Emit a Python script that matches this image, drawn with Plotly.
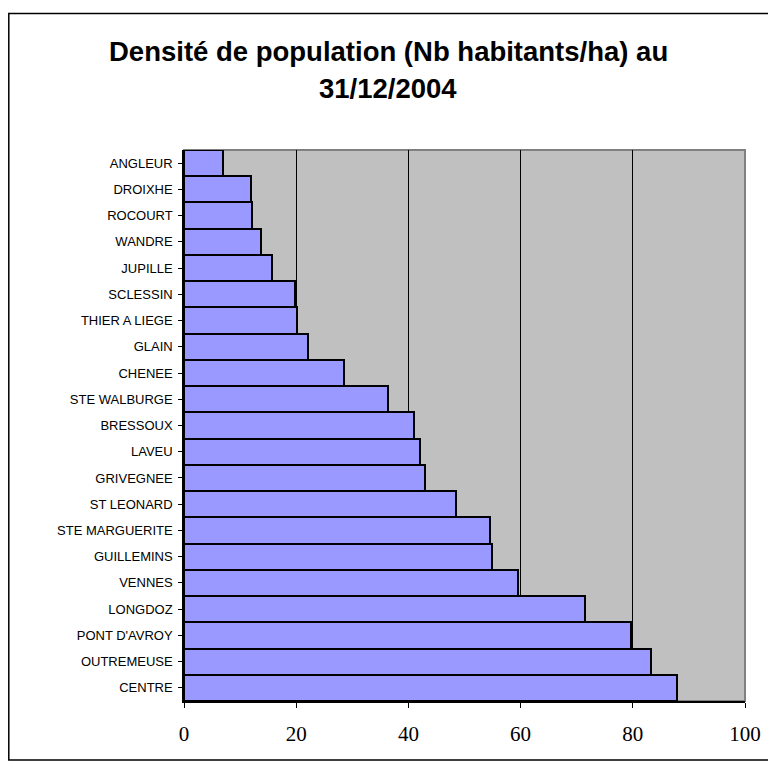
import plotly.graph_objects as go

quartiers = ["ANGLEUR", "DROIXHE", "ROCOURT", "WANDRE", "JUPILLE", "SCLESSIN",
             "THIER A LIEGE", "GLAIN", "CHENEE", "STE WALBURGE", "BRESSOUX",
             "LAVEU", "GRIVEGNEE", "ST LEONARD", "STE MARGUERITE", "GUILLEMINS",
             "VENNES", "LONGDOZ", "PONT D'AVROY", "OUTREMEUSE", "CENTRE"]
densite = [7.0, 12.0, 12.2, 13.8, 15.7, 19.7, 20.1, 22.1, 28.5, 36.4, 41.0,
           42.1, 43.0, 48.5, 54.5, 54.9, 59.5, 71.4, 79.6, 83.3, 87.9]
x_ticks = [0, 20, 40, 60, 80, 100]

# page offset (default body margin of the html page)
OFF = 8
W, H = 776 - OFF, 767 - OFF
L, R, T, B = 184 - OFF, 745 - OFF, 150 - OFF, 701 - OFF
pw, ph = R - L, B - T

def px(x):
    return (x - OFF - L) / pw

def py(y):
    return (B - (y - OFF)) / ph

fig = go.Figure()
fig.add_trace(go.Bar(
    y=quartiers, x=densite, orientation="h",
    marker=dict(color="#9999FF", line=dict(color="black", width=2)),
    hoverinfo="x+y",
))

fig.update_layout(
    width=W, height=H,
    margin=dict(l=L, r=W - R, t=T, b=H - B, pad=0),
    paper_bgcolor="white", plot_bgcolor="#C0C0C0",
    bargap=0, showlegend=False,
    xaxis=dict(range=[0, 100], tickvals=x_ticks, ticktext=[str(v) for v in x_ticks],
               showgrid=True, gridcolor="#000000", gridwidth=1,
               ticks="outside", ticklen=5, tickcolor="black", tickwidth=1,
               showline=True, linecolor="black", linewidth=1.5,
               zeroline=False, ticklabelstandoff=8,
               tickfont=dict(family="Liberation Serif", size=21, color="black")),
    yaxis=dict(autorange="reversed", showgrid=False, zeroline=False,
               ticks="outside", ticklen=4, tickcolor="black", tickwidth=1,
               showline=True, linecolor="black", linewidth=1.5,
               ticklabelstandoff=3,
               tickfont=dict(family="Liberation Sans", size=13, color="black")),
    shapes=[
        dict(type="rect", xref="paper", yref="paper", x0=0, x1=1, y0=0, y1=1,
             line=dict(color="#808080", width=2), layer="below"),
        dict(type="rect", xref="paper", yref="paper",
             x0=px(8.8), x1=px(770), y0=py(760), y1=py(13.5),
             line=dict(color="black", width=1.5)),
    ],
    annotations=[
        dict(text="<b>Densité de population (Nb habitants/ha) au</b>",
             xref="paper", yref="paper", x=px(388), y=py(52),
             xanchor="center", yanchor="middle", showarrow=False,
             font=dict(family="Liberation Sans", size=27.5, color="black")),
        dict(text="<b>31/12/2004</b>",
             xref="paper", yref="paper", x=px(388), y=py(88),
             xanchor="center", yanchor="middle", showarrow=False,
             font=dict(family="Liberation Sans", size=27.5, color="black")),
    ],
)

fig.write_html("out.html")
